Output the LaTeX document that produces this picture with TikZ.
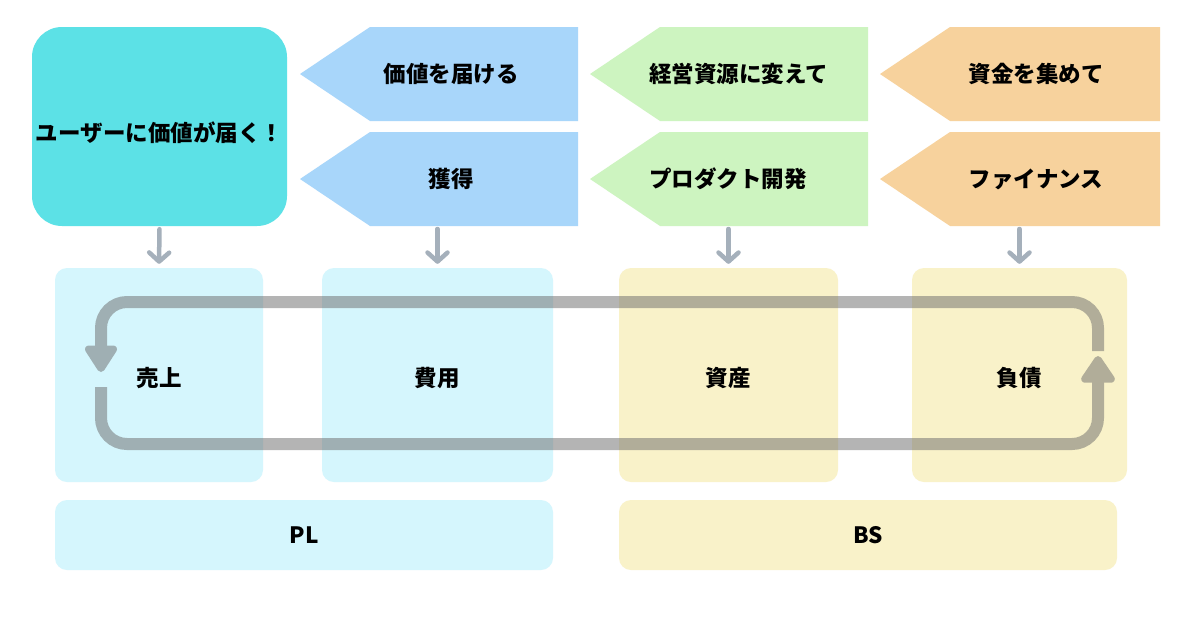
\documentclass[tikz,border=0pt]{standalone}
\usepackage{fontspec}
\setmainfont{Noto Sans CJK JP}
\usetikzlibrary{arrows.meta}
\definecolor{bigc}{HTML}{5CE1E6}
\definecolor{bluec}{HTML}{A8D6FA}
\definecolor{greenc}{HTML}{CDF4C0}
\definecolor{orangec}{HTML}{F7D29D}
\definecolor{lcyan}{HTML}{D5F6FD}
\definecolor{lyellow}{HTML}{F9F2C9}
\definecolor{dnc}{HTML}{A5B0BB}
\definecolor{loopc}{HTML}{6A6A6A}
\begin{document}
\begin{tikzpicture}[x=1pt,y=-1pt,
  txt/.style={font=\fontsize{22.5}{26}\selectfont\bfseries, text=black, inner sep=0pt},
  pent/.style={minimum width=278pt, minimum height=94pt, inner sep=0pt, outer sep=0pt,
    path picture={\fill[#1] ([xshift=70pt]path picture bounding box.north west) -- (path picture bounding box.north east) -- (path picture bounding box.south east) -- ([xshift=70pt]path picture bounding box.south west) -- (path picture bounding box.west) -- cycle;}},
  lbox/.style={fill=#1, rounded corners=12pt, inner sep=0pt},
  dnarrow/.style={draw=dnc, line width=4.5pt, line cap=round, shorten <=3pt, shorten >=4pt,
    -{Straight Barb[length=9pt,width=20pt,line width=4.5pt,round]}},
  loopline/.style={draw=loopc, line width=12pt, rounded corners=26pt}
]
\fill[white] (0,0) rectangle (1200,630);
\useasboundingbox (0,0) rectangle (1200,630);

% top shapes
\node[fill=bigc, rounded corners=30pt, minimum width=255pt, minimum height=199pt, inner sep=0pt] (big) at (159.5,126.5) {};
\node[txt] (tbig) at (159.5,133) {ユーザーに価値が届く！};

\node[pent=bluec] (b1) at (439,74) {};
\node[pent=bluec] (b2) at (439,179) {};
\node[pent=greenc] (g1) at (729,74) {};
\node[pent=greenc] (g2) at (729,179) {};
\node[pent=orangec, minimum width=280pt] (o1) at (1020,74) {};
\node[pent=orangec, minimum width=280pt] (o2) at (1020,179) {};

\node[txt] (tb1) at (451,74) {価値を届ける};
\node[txt] (tb2) at (451,179) {獲得};
\node[txt, anchor=west] (tg1) at (649,74) {経営資源に変えて};
\node[txt, anchor=west] (tg2) at (649,179) {プロダクト開発};
\node[txt] (to1) at (1036,74) {資金を集めて};
\node[txt] (to2) at (1036,179) {ファイナンス};

% lower boxes
\node[lbox=lcyan, minimum width=208pt, minimum height=214pt] (l1) at (159,375) {};
\node[lbox=lcyan, minimum width=231pt, minimum height=214pt] (l2) at (437.5,375) {};
\node[lbox=lyellow, minimum width=219pt, minimum height=214pt] (l3) at (728.5,375) {};
\node[lbox=lyellow, minimum width=215pt, minimum height=214pt] (l4) at (1019.5,375) {};

\node[lbox=lcyan, minimum width=498pt, minimum height=70pt] (pl) at (304,535) {};
\node[lbox=lyellow, minimum width=498pt, minimum height=70pt] (bs) at (868,535) {};

% down arrows
\draw[dnarrow] (big.south) -- (l1.north);
\draw[dnarrow] (b2.south -| l2.north) -- (l2.north);
\draw[dnarrow] (g2.south -| l3.north) -- (l3.north);
\draw[dnarrow] (o2.south -| l4.north) -- (l4.north);

% loop
\coordinate (ra) at (1098,351);
\coordinate (la) at (101,372);
\coordinate (lb) at (101,387);
\coordinate (rb) at (1098,356);
\begin{scope}[transparency group, opacity=0.5]
\draw[loopline, -{Triangle[length=30pt,width=36pt,round]}] (ra) -- (1098,302) -- (101,302) -- (la);
\end{scope}
\begin{scope}[transparency group, opacity=0.5]
\draw[loopline, -{Triangle[length=30pt,width=38pt,round]}] (lb) -- (101,444) -- (1098,444) -- (rb);
\end{scope}

% labels
\node[txt] (t1) at (159,378) {売上};
\node[txt] (t2) at (437,378) {費用};
\node[txt] (t3) at (728,378) {資産};
\node[txt] (t4) at (1019,378) {負債};
\node[txt] (tpl) at (304,535) {PL};
\node[txt] (tbs) at (868,535) {BS};
\end{tikzpicture}
\end{document}
